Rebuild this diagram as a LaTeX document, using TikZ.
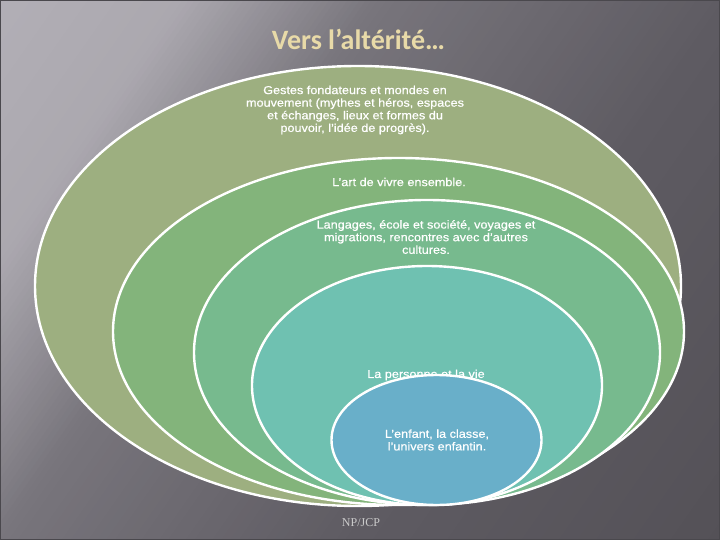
\documentclass[tikz,border=0pt]{standalone}
\usepackage{fontspec}
\setmainfont{Liberation Sans}
\newfontfamily\titlefont{Carlito}
\newfontfamily\footfont{Liberation Serif}
\newfontfamily\bodyfont[FakeStretch=1.1,FakeBold=0.6]{Liberation Sans}
\usetikzlibrary{shapes.geometric}
\definecolor{bgA}{HTML}{B2AFB6}
\definecolor{bgB}{HTML}{ABA8AF}
\definecolor{bgC}{HTML}{78757C}
\definecolor{bgD}{HTML}{5E5B62}
\definecolor{bgE}{HTML}{545157}
\definecolor{ringA}{HTML}{9DAF80}
\definecolor{ringB}{HTML}{83B47B}
\definecolor{ringC}{HTML}{77BA8E}
\definecolor{ringD}{HTML}{6FC1B1}
\definecolor{ringE}{HTML}{69AFC9}
\definecolor{titlecol}{HTML}{E8DAA8}
\definecolor{footcol}{HTML}{CACACA}
\definecolor{framecol}{HTML}{4A484D}
% strips of a linear gradient: #1 from, #2 to, #3 colour at start, #4 colour at end, #5 number of strips
\newcommand\bgseg[5]{%
  \foreach \k in {1,...,#5} {%
    \pgfmathsetmacro\pl{#1+(#2-#1)*(\k-1)/#5}%
    \pgfmathsetmacro\pr{#1+(#2-#1)*\k/#5+0.8}%
    \pgfmathsetmacro\tt{100*(\k-0.5)/#5}%
    \fill[#4!\tt!#3] (\pl,-900) rectangle (\pr,900);
  }}
\begin{document}
\begin{tikzpicture}[x=1pt,y=-1pt,
  ring/.style={ellipse, draw=white, line width=2.4pt, inner sep=0pt},
  lbl/.style={text=white, font=\bodyfont\fontsize{11.5}{12.6}\selectfont, align=center, inner sep=0pt}]
\useasboundingbox (0,0) rectangle (720,540);
\begin{scope}
  \clip (0,0) rectangle (720,540);
  \begin{scope}[rotate=-35]
    \bgseg{-5}{150}{bgA}{bgB}{20}
    \bgseg{150}{310}{bgB}{bgC}{32}
    \bgseg{310}{600}{bgC}{bgD}{40}
    \bgseg{600}{905}{bgD}{bgE}{20}
  \end{scope}
\end{scope}
\draw[line width=1pt, framecol] (0.5,0.5) rectangle (719.5,539.5);
\node[font=\titlefont\bfseries\fontsize{28}{34}\selectfont, text=titlecol, anchor=base] (title) at (358.5,50) {Vers l’altérité…};
\node[ring, fill=ringA, minimum width=646pt, minimum height=440pt] (e1) at (358,286) {};
\node[lbl] (t1) at (355,110) {Gestes fondateurs et mondes en\\mouvement (mythes et héros, espaces\\et échanges, lieux et formes du\\pouvoir, l’idée de progrès).};
\node[ring, fill=ringB, minimum width=571pt, minimum height=347pt] (e2) at (398.5,331.5) {};
\node[lbl] (t2) at (399,182) {L’art de vivre ensemble.};
\node[ring, fill=ringC, minimum width=466pt, minimum height=305pt] (e3) at (427,352.5) {};
\node[lbl] (t3) at (426,237) {Langages, école et société, voyages et\\migrations, rencontres avec d’autres\\cultures.};
\node[ring, fill=ringD, minimum width=350pt, minimum height=239pt] (e4) at (427,385.5) {};
\node[lbl] (t4) at (426,375) {La personne et la vie};
\node[ring, fill=ringE, minimum width=210pt, minimum height=130pt] (e5) at (436.5,440) {};
\node[lbl] (t5) at (437,440) {L’enfant, la classe,\\l’univers enfantin.};
\node[font=\footfont\fontsize{12}{14}\selectfont, text=footcol] (foot) at (361,523) {NP/JCP};
\end{tikzpicture}
\end{document}
